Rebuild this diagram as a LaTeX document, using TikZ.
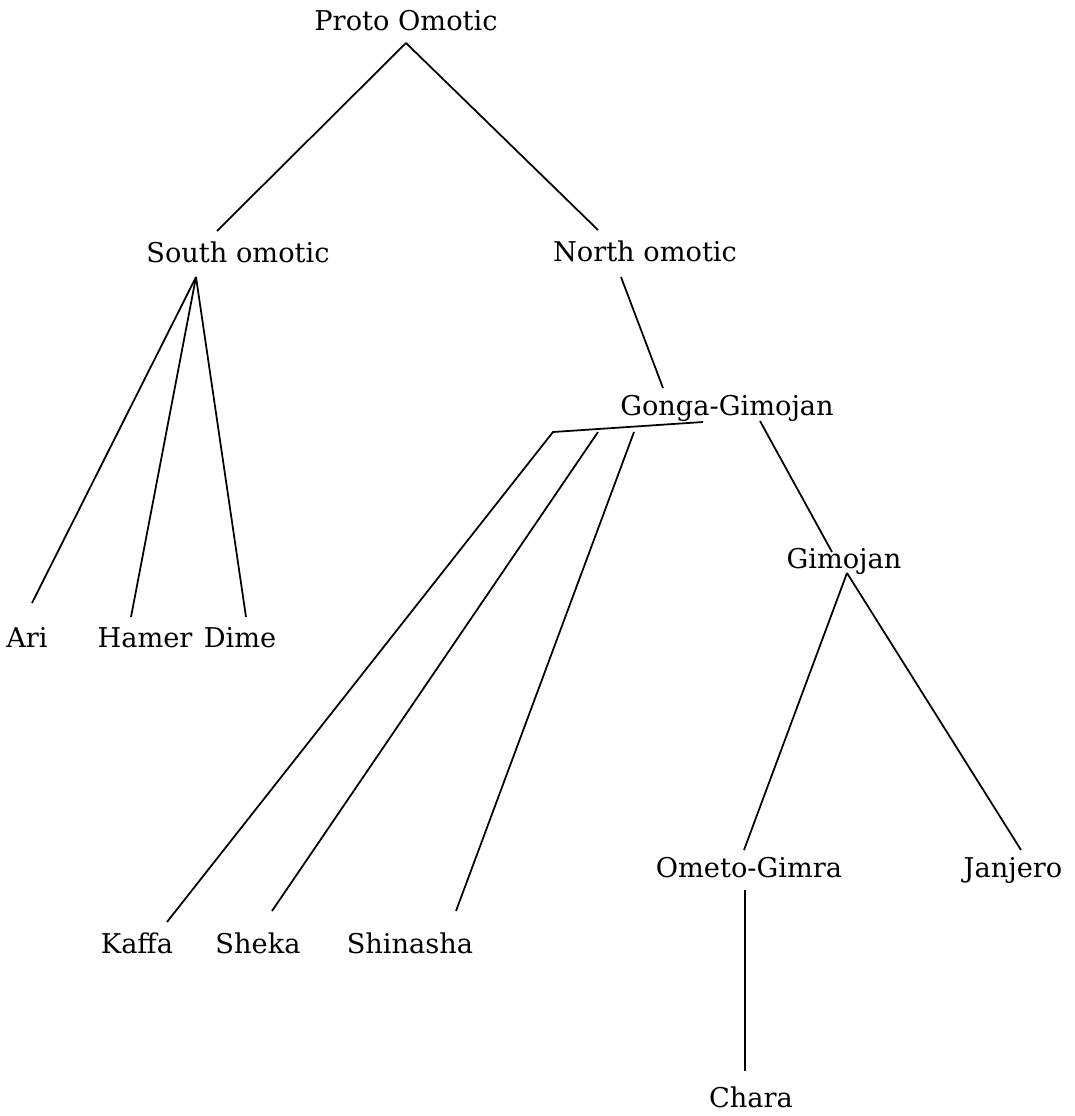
\documentclass[tikz,border=0pt]{standalone}
\usepackage{fontspec}
\setmainfont{DejaVu Serif}
\usetikzlibrary{calc}

\begin{document}
\begin{tikzpicture}[x=0.02cm, y=-0.02cm,
    lang/.style={anchor=base, inner sep=0pt, font=\fontsize{15.5pt}{18pt}\selectfont},
    branch/.style={line width=1pt}]
    \useasboundingbox (0, 0) rectangle (1075, 1116);

    % Root and first split
    \node[lang] (proto) at (406, 30) {Proto Omotic};
    \node[lang] (south) at (238, 262) {South omotic};
    \node[lang] (north) at (645, 261) {North omotic};

    % South omotic languages
    \node[lang] (ari) at (27, 647) {Ari};
    \node[lang] (hamer) at (145, 647) {Hamer};
    \node[lang] (dime) at (240, 647) {Dime};

    % North omotic subgroups
    \node[lang] (gonga) at (727, 415) {Gonga-Gimojan};
    \node[lang] (gimojan) at (844, 568) {Gimojan};
    \node[lang] (kaffa) at (137, 953) {Kaffa};
    \node[lang] (sheka) at (258, 953) {Sheka};
    \node[lang] (shinasha) at (410, 953) {Shinasha};
    \node[lang] (ometo) at (749, 877) {Ometo-Gimra};
    \node[lang] (janjero) at (1013, 877) {Janjero};
    \node[lang] (chara) at (751, 1107) {Chara};

    % Branches from the root
    \draw[branch] ($(proto.base)+(0, 13)$) -- ($(south.base)+(-21, -31)$);
    \draw[branch] ($(proto.base)+(0, 13)$) -- ($(north.base)+(-47, -31)$);

    % South omotic fan
    \draw[branch] ($(south.base)+(-42, 15)$) -- ($(ari.base)+(5, -44)$);
    \draw[branch] ($(south.base)+(-42, 15)$) -- ($(hamer.base)+(-14, -30)$);
    \draw[branch] ($(south.base)+(-42, 15)$) -- ($(dime.base)+(6, -30)$);

    % North omotic down to Gonga-Gimojan
    \draw[branch] ($(north.base)+(-24, 16)$) -- ($(gonga.base)+(-64, -27)$);

    % Gonga languages
    \draw[branch] ($(gonga.base)+(-24, 7)$) -- ($(gonga.base)+(-174, 17)$)
        -- ($(kaffa.base)+(30, -31)$);
    \draw[branch] ($(gonga.base)+(-129, 17)$) -- ($(sheka.base)+(14, -42)$);
    \draw[branch] ($(gonga.base)+(-93, 17)$) -- ($(shinasha.base)+(46, -42)$);

    % Gimojan and below
    \draw[branch] ($(gonga.base)+(33, 6)$) -- ($(gimojan.base)+(-12, -16)$);
    \draw[branch] ($(gimojan.base)+(3, 5)$) -- ($(ometo.base)+(-5, -27)$);
    \draw[branch] ($(gimojan.base)+(3, 5)$) -- ($(janjero.base)+(8, -27)$);
    \draw[branch] ($(ometo.base)+(-4, 13)$) -- ($(chara.base)+(-6, -36)$);
  \end{tikzpicture}
\end{document}
